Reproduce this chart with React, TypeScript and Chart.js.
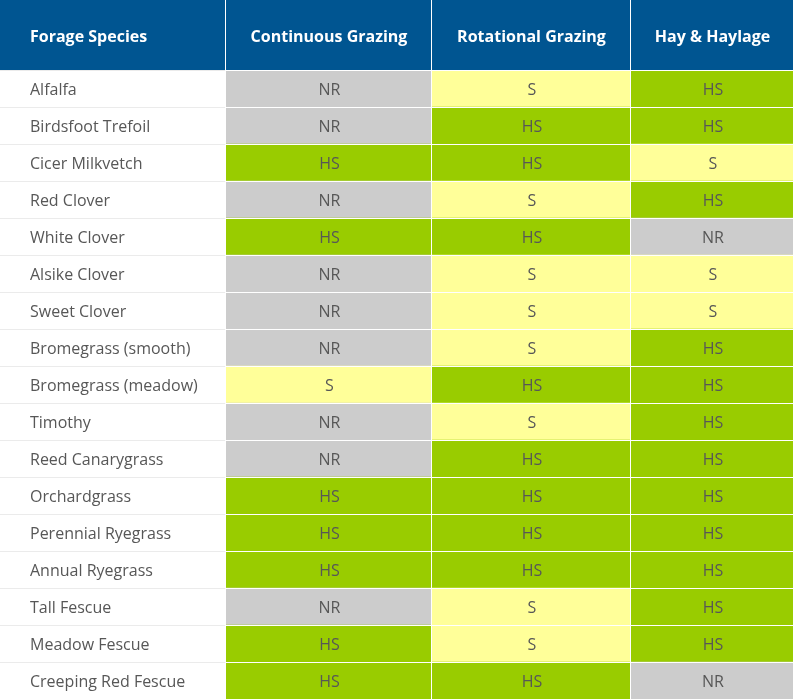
import React, { useEffect, useRef } from "react";
import { Chart, registerables } from "chart.js";

Chart.register(...registerables);

const headers = ["Forage Species", "Continuous Grazing", "Rotational Grazing", "Hay & Haylage"];
const species = [
  "Alfalfa",
  "Birdsfoot Trefoil",
  "Cicer Milkvetch",
  "Red Clover",
  "White Clover",
  "Alsike Clover",
  "Sweet Clover",
  "Bromegrass (smooth)",
  "Bromegrass (meadow)",
  "Timothy",
  "Reed Canarygrass",
  "Orchardgrass",
  "Perennial Ryegrass",
  "Annual Ryegrass",
  "Tall Fescue",
  "Meadow Fescue",
  "Creeping Red Fescue",
];
const continuous = ["NR", "NR", "HS", "NR", "HS", "NR", "NR", "NR", "S", "NR", "NR", "HS", "HS", "HS", "NR", "HS", "HS"];
const rotational = ["S", "HS", "HS", "S", "HS", "S", "S", "S", "HS", "S", "HS", "HS", "HS", "HS", "S", "S", "HS"];
const hay = ["HS", "HS", "S", "HS", "NR", "S", "S", "HS", "HS", "HS", "HS", "HS", "HS", "HS", "HS", "HS", "NR"];

// layout (not data)
const W = 793;
const H = 699;
const HEADER_H = 70;
const colEdges = [0, 225, 431, 630, 793];
const ratingColor: Record<string, string> = { HS: "#99cc00", S: "#ffff99", NR: "#cccccc" };
const FONT = '"Open Sans", "Noto Sans", sans-serif';
const BLUE = "#005591";
const TEXT = "#575757";

export default function App() {
  const ref = useRef<HTMLCanvasElement | null>(null);

  useEffect(() => {
    document.body.style.margin = "0";
    const canvas = ref.current!;
    const columns = [continuous, rotational, hay];

    const tablePlugin = {
      id: "tablePlugin",
      beforeDraw(chart: any) {
        const ctx = chart.ctx;
        const xs = chart.scales.x;
        ctx.save();
        ctx.fillStyle = "#ffffff";
        ctx.fillRect(0, 0, W, H);
        ctx.fillStyle = BLUE;
        ctx.fillRect(0, 0, W, chart.chartArea.top);
        ctx.fillStyle = "#ffffff";
        for (let i = 1; i < colEdges.length - 1; i++) {
          const px = Math.round(xs.getPixelForValue(colEdges[i]));
          ctx.fillRect(px, 0, 1, chart.chartArea.top);
        }
        ctx.font = `bold 16px ${FONT}`;
        ctx.textBaseline = "middle";
        const hy = chart.chartArea.top / 2 + 2;
        headers.forEach((h, i) => {
          const x0 = xs.getPixelForValue(colEdges[i]);
          const x1 = xs.getPixelForValue(colEdges[i + 1]);
          if (i === 0) {
            ctx.textAlign = "left";
            ctx.fillText(h, x0 + 30, hy);
          } else {
            ctx.textAlign = "center";
            ctx.fillText(h, (x0 + x1) / 2 + 1, hy);
          }
        });
        ctx.restore();
      },
      afterDatasetsDraw(chart: any) {
        const ctx = chart.ctx;
        const xs = chart.scales.x;
        const ys = chart.scales.y;
        const area = chart.chartArea;
        const rowH = (area.bottom - area.top) / species.length;
        ctx.save();
        // row separators
        const sepX = Math.round(xs.getPixelForValue(colEdges[1]));
        for (let k = 0; k < species.length; k++) {
          const y = Math.round(ys.getPixelForValue(k) - rowH / 2);
          ctx.fillStyle = "#ebebeb";
          ctx.fillRect(0, y, sepX, 1);
          ctx.fillStyle = "#ffffff";
          ctx.fillRect(sepX, y, W - sepX, 1);
        }
        // column separators
        ctx.fillStyle = "#ffffff";
        for (let i = 1; i < colEdges.length - 1; i++) {
          const px = Math.round(xs.getPixelForValue(colEdges[i]));
          ctx.fillRect(px, area.top, 1, area.bottom - area.top);
        }
        // species labels
        ctx.font = `16px ${FONT}`;
        ctx.textBaseline = "middle";
        ctx.fillStyle = TEXT;
        ctx.textAlign = "left";
        species.forEach((s, k) => {
          ctx.fillText(s, xs.getPixelForValue(colEdges[0]) + 30, ys.getPixelForValue(k) + 2);
        });
        // rating labels
        ctx.textAlign = "center";
        chart.data.datasets.forEach((ds: any, di: number) => {
          const meta = chart.getDatasetMeta(di);
          meta.data.forEach((el: any, k: number) => {
            const cx = (el.x + el.base) / 2;
            ctx.fillText(columns[di][k], cx + 1, el.y + 2);
          });
        });
        ctx.restore();
      },
    };

    const datasets = columns.map((col, di) => ({
      label: headers[di + 1],
      data: col.map(() => [colEdges[di + 1] + 1, colEdges[di + 2]]),
      backgroundColor: col.map((r) => ratingColor[r]),
      borderWidth: 0,
      barPercentage: 1,
      categoryPercentage: 1,
      grouped: false,
    }));

    const chart = new Chart(canvas, {
      type: "bar",
      data: { labels: species, datasets: datasets as any },
      options: {
        indexAxis: "y",
        animation: false,
        responsive: false,
        devicePixelRatio: 1,
        layout: { padding: { top: HEADER_H, left: 0, right: 0, bottom: 0 } },
        scales: {
          x: { type: "linear", min: colEdges[0], max: colEdges[colEdges.length - 1], display: false },
          y: { type: "category", display: false, offset: true },
        },
        plugins: { legend: { display: false }, tooltip: { enabled: false } },
      },
      plugins: [tablePlugin],
    });
    if ((document as any).fonts && (document as any).fonts.ready) {
      (document as any).fonts.ready.then(() => chart.draw());
    }
    return () => chart.destroy();
  }, []);

  return (
    <div style={{ width: W, height: H }}>
      <canvas ref={ref} width={W} height={H} style={{ display: "block" }} />
    </div>
  );
}
